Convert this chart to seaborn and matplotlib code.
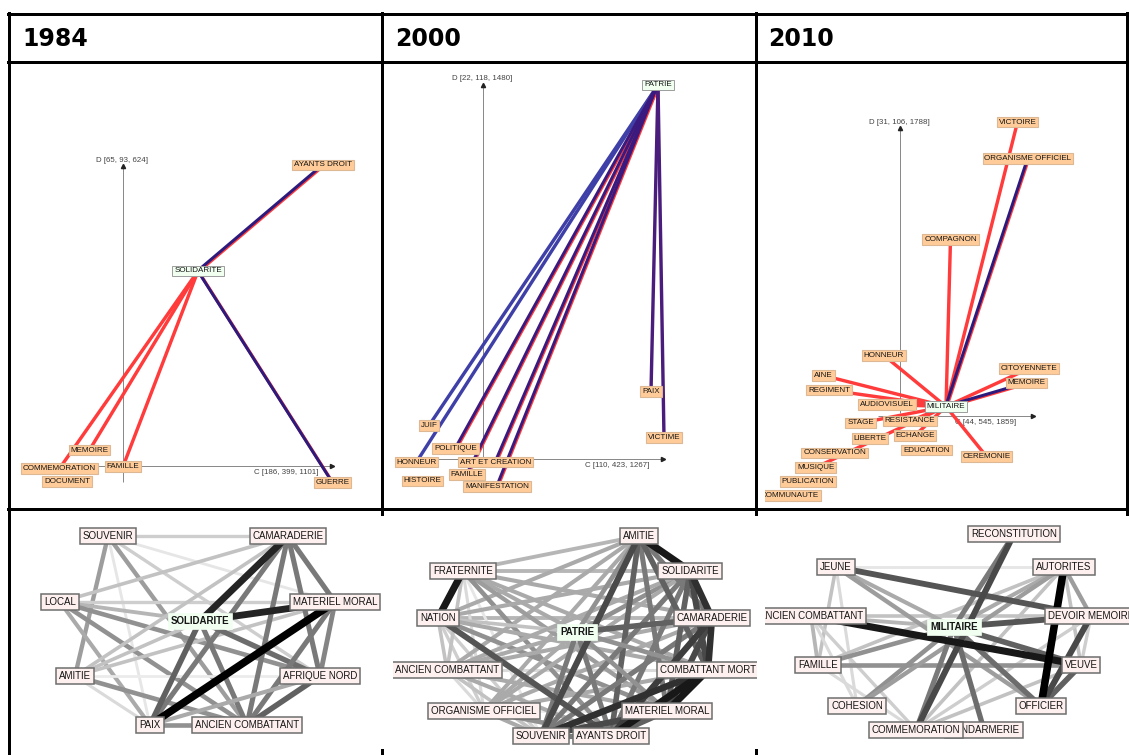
import matplotlib
matplotlib.use("Agg")
import matplotlib.pyplot as plt
import seaborn as sns
from matplotlib import transforms

W, H = 1129, 755
sns.set_theme(style="white")
plt.rcParams['font.family'] = ['Liberation Sans', 'DejaVu Sans']

years = ["1984", "2000", "2010"]

# ---------------- top row : specificity maps (layout coordinates) ----------------
t84_center = "SOLIDARITE"
t84_nodes = ["SOLIDARITE", "AYANTS DROIT", "MEMOIRE", "COMMEMORATION", "FAMILLE", "DOCUMENT", "GUERRE"]
t84_x = [198, 323, 89.5, 59.5, 123, 67, 332.5]
t84_y = [271, 165, 450, 468.5, 466.5, 481.5, 482.5]
t84_links = ["AYANTS DROIT", "MEMOIRE", "COMMEMORATION", "FAMILLE", "GUERRE"]
t84_tones = ["navy", "red", "red", "red", "navy"]
t84_axis = {"D": "D [65, 93, 624]", "C": "C [186, 399, 1101]"}

t00_center = "PATRIE"
t00_nodes = ["PATRIE", "JUIF", "POLITIQUE", "HONNEUR", "ART ET CREATION", "HISTOIRE",
             "FAMILLE", "MANIFESTATION", "PAIX", "VICTIME"]
t00_x = [658, 429, 455.5, 416.5, 495.5, 422.5, 467, 497, 651, 664]
t00_y = [85, 425.5, 448.5, 462, 462, 481, 474.5, 486.5, 391.5, 437.5]
t00_links = ["JUIF", "HONNEUR", "POLITIQUE", "FAMILLE", "ART ET CREATION", "MANIFESTATION", "PAIX", "VICTIME"]
t00_tones = ["blue", "blue", "plum", "plum", "plum", "plum", "purple", "purple"]
t00_axis = {"D": "D [22, 118, 1480]", "C": "C [110, 423, 1267]"}

t10_center = "MILITAIRE"
t10_nodes = ["MILITAIRE", "VICTOIRE", "ORGANISME OFFICIEL", "COMPAGNON", "HONNEUR", "AINE",
             "REGIMENT", "AUDIOVISUEL", "CITOYENNETE", "MEMOIRE", "STAGE", "RESISTANCE",
             "LIBERTE", "ECHANGE", "EDUCATION", "CEREMONIE", "CONSERVATION", "MUSIQUE",
             "PUBLICATION", "COMMUNAUTE"]
t10_x = [946, 1017.5, 1028, 950.5, 884, 823.5, 829, 887, 1029, 1026.5, 860.5, 910,
         870, 915, 926.5, 986.5, 834.5, 815.5, 808, 790]
t10_y = [406.5, 122, 158.5, 239.5, 355.5, 375.5, 390, 404.5, 368.5, 383, 423, 421,
         438.5, 435.5, 450, 456.5, 453, 467.5, 481.5, 495.5]
t10_links = ["VICTOIRE", "ORGANISME OFFICIEL", "COMPAGNON", "HONNEUR", "AINE", "REGIMENT",
             "AUDIOVISUEL", "CITOYENNETE", "MEMOIRE", "STAGE", "RESISTANCE", "ECHANGE",
             "CEREMONIE", "MUSIQUE"]
t10_tones = ["red", "navy", "red", "red", "red", "red", "red", "red", "navy",
             "red", "red", "red", "red", "red"]
t10_axis = {"D": "D [31, 106, 1788]", "C": "C [44, 545, 1859]"}

# C/D axis frames: (origin x, origin y, x min, x max, y min, y max)
t84_frame = (123, 466, 98, 332, 166, 482)
t00_frame = (483, 459, 420, 663, 85, 462)
t10_frame = (900, 416, 878, 1033, 128, 413)

# ---------------- bottom row : co-occurrence graphs ----------------
b84_center = "SOLIDARITE"
b84_nodes = ["SOUVENIR", "CAMARADERIE", "LOCAL", "MATERIEL MORAL", "SOLIDARITE",
             "AMITIE", "AFRIQUE NORD", "PAIX", "ANCIEN COMBATTANT"]
b84_x = [108, 288, 60, 335, 200, 75, 320, 150, 247]
b84_y = [536, 536, 602, 602, 621, 676, 676, 725, 725]
b84_edges = [
    ("SOUVENIR", "CAMARADERIE", 1.5), ("SOUVENIR", "AMITIE", 3.5), ("SOUVENIR", "ANCIEN COMBATTANT", 3.5),
    ("SOUVENIR", "MATERIEL MORAL", 0.5), ("SOUVENIR", "PAIX", 0.5), ("SOUVENIR", "AFRIQUE NORD", 1.5),
    ("LOCAL", "MATERIEL MORAL", 1.5), ("LOCAL", "SOLIDARITE", 2.5), ("LOCAL", "AFRIQUE NORD", 4),
    ("LOCAL", "ANCIEN COMBATTANT", 4), ("LOCAL", "PAIX", 3),
    ("AMITIE", "AFRIQUE NORD", 0.3), ("AMITIE", "ANCIEN COMBATTANT", 4), ("AMITIE", "PAIX", 1),
    ("AMITIE", "SOLIDARITE", 2), ("MATERIEL MORAL", "AMITIE", 2),
    ("CAMARADERIE", "LOCAL", 2), ("CAMARADERIE", "AMITIE", 2),
    ("CAMARADERIE", "PAIX", 5), ("CAMARADERIE", "ANCIEN COMBATTANT", 5),
    ("CAMARADERIE", "MATERIEL MORAL", 5), ("CAMARADERIE", "AFRIQUE NORD", 5),
    ("SOLIDARITE", "PAIX", 6), ("SOLIDARITE", "ANCIEN COMBATTANT", 5), ("SOLIDARITE", "AFRIQUE NORD", 5.5),
    ("MATERIEL MORAL", "AFRIQUE NORD", 4.5), ("MATERIEL MORAL", "ANCIEN COMBATTANT", 5),
    ("AFRIQUE NORD", "PAIX", 3), ("AFRIQUE NORD", "ANCIEN COMBATTANT", 6),
    ("PAIX", "ANCIEN COMBATTANT", 4),
    ("CAMARADERIE", "SOLIDARITE", 8.5), ("MATERIEL MORAL", "SOLIDARITE", 8.5),
    ("MATERIEL MORAL", "PAIX", 10),
]

b00_center = "PATRIE"
b00_nodes = ["AMITIE", "FRATERNITE", "SOLIDARITE", "NATION", "CAMARADERIE", "PATRIE",
             "ANCIEN COMBATTANT", "COMBATTANT MORT", "ORGANISME OFFICIEL", "MATERIEL MORAL",
             "SOUVENIR", "AYANTS DROIT"]
b00_x = [639, 463, 690, 438, 712, 577, 447, 708, 484, 667, 541, 611]
b00_y = [536, 571, 571, 618, 618, 632, 670, 670, 711, 711, 736, 736]
b00_edges = [
    ("AMITIE", "FRATERNITE", 2.5), ("FRATERNITE", "SOLIDARITE", 2.5), ("NATION", "CAMARADERIE", 2.5),
    ("ANCIEN COMBATTANT", "COMBATTANT MORT", 1), ("ORGANISME OFFICIEL", "MATERIEL MORAL", 0.3),
    ("NATION", "ORGANISME OFFICIEL", 1.5), ("FRATERNITE", "ORGANISME OFFICIEL", 1),
    ("FRATERNITE", "SOUVENIR", 0.5), ("NATION", "SOUVENIR", 1.5), ("ANCIEN COMBATTANT", "SOUVENIR", 2),
    ("ANCIEN COMBATTANT", "ORGANISME OFFICIEL", 1), ("FRATERNITE", "ANCIEN COMBATTANT", 2),
    ("NATION", "ANCIEN COMBATTANT", 2), ("AMITIE", "NATION", 3), ("AMITIE", "ORGANISME OFFICIEL", 3),
    ("AMITIE", "ANCIEN COMBATTANT", 3), ("FRATERNITE", "CAMARADERIE", 3), ("FRATERNITE", "PATRIE", 3),
    ("FRATERNITE", "COMBATTANT MORT", 3), ("FRATERNITE", "MATERIEL MORAL", 3.5),
    ("FRATERNITE", "AYANTS DROIT", 4), ("NATION", "SOLIDARITE", 3), ("NATION", "PATRIE", 2),
    ("NATION", "COMBATTANT MORT", 3), ("NATION", "MATERIEL MORAL", 4), ("SOLIDARITE", "PATRIE", 4),
    ("SOLIDARITE", "ANCIEN COMBATTANT", 3), ("SOLIDARITE", "ORGANISME OFFICIEL", 3),
    ("CAMARADERIE", "ANCIEN COMBATTANT", 3), ("CAMARADERIE", "ORGANISME OFFICIEL", 3),
    ("PATRIE", "ANCIEN COMBATTANT", 3), ("PATRIE", "ORGANISME OFFICIEL", 3),
    ("ANCIEN COMBATTANT", "MATERIEL MORAL", 3), ("ANCIEN COMBATTANT", "AYANTS DROIT", 3),
    ("COMBATTANT MORT", "ORGANISME OFFICIEL", 3), ("ORGANISME OFFICIEL", "SOUVENIR", 3),
    ("ORGANISME OFFICIEL", "AYANTS DROIT", 4), ("AMITIE", "PATRIE", 4), ("AMITIE", "CAMARADERIE", 5),
    ("AMITIE", "MATERIEL MORAL", 5), ("AMITIE", "AYANTS DROIT", 6), ("SOLIDARITE", "AYANTS DROIT", 5),
    ("SOLIDARITE", "SOUVENIR", 5), ("CAMARADERIE", "SOUVENIR", 5), ("PATRIE", "COMBATTANT MORT", 4),
    ("PATRIE", "MATERIEL MORAL", 4), ("PATRIE", "SOUVENIR", 5), ("PATRIE", "AYANTS DROIT", 5),
    ("SOUVENIR", "AYANTS DROIT", 5), ("MATERIEL MORAL", "AYANTS DROIT", 6),
    ("CAMARADERIE", "PATRIE", 6), ("NATION", "AYANTS DROIT", 6.5), ("AMITIE", "COMBATTANT MORT", 6),
    ("SOLIDARITE", "MATERIEL MORAL", 6), ("AMITIE", "SOUVENIR", 7), ("MATERIEL MORAL", "SOUVENIR", 7),
    ("SOLIDARITE", "COMBATTANT MORT", 7), ("CAMARADERIE", "MATERIEL MORAL", 7),
    ("CAMARADERIE", "AYANTS DROIT", 7.5), ("COMBATTANT MORT", "SOUVENIR", 8),
    ("SOLIDARITE", "CAMARADERIE", 8), ("CAMARADERIE", "COMBATTANT MORT", 8),
    ("COMBATTANT MORT", "AYANTS DROIT", 9), ("AMITIE", "SOLIDARITE", 9),
    ("COMBATTANT MORT", "MATERIEL MORAL", 9), ("FRATERNITE", "NATION", 9),
]

b10_center = "MILITAIRE"
b10_nodes = ["RECONSTITUTION", "JEUNE", "AUTORITES", "ANCIEN COMBATTANT", "DEVOIR MEMOIRE",
             "MILITAIRE", "FAMILLE", "VEUVE", "COHESION", "OFFICIER", "GENDARMERIE", "COMMEMORATION"]
b10_x = [1014, 836, 1064, 811, 1091, 954, 818, 1081, 857, 1041, 984, 916]
b10_y = [534, 567, 567, 616, 616, 627, 665, 665, 706, 706, 730, 730]
b10_edges = [
    ("JEUNE", "AUTORITES", 0.5), ("ANCIEN COMBATTANT", "DEVOIR MEMOIRE", 2),
    ("ANCIEN COMBATTANT", "MILITAIRE", 2.5), ("JEUNE", "FAMILLE", 2), ("ANCIEN COMBATTANT", "FAMILLE", 2.5),
    ("ANCIEN COMBATTANT", "COHESION", 1), ("FAMILLE", "COMMEMORATION", 1), ("JEUNE", "COHESION", 1),
    ("ANCIEN COMBATTANT", "COMMEMORATION", 1.5), ("AUTORITES", "VEUVE", 2), ("AUTORITES", "COMMEMORATION", 2),
    ("AUTORITES", "FAMILLE", 2), ("DEVOIR MEMOIRE", "COMMEMORATION", 1.5), ("VEUVE", "COMMEMORATION", 2),
    ("DEVOIR MEMOIRE", "VEUVE", 1.5), ("JEUNE", "MILITAIRE", 3), ("AUTORITES", "MILITAIRE", 3),
    ("AUTORITES", "DEVOIR MEMOIRE", 3.5), ("JEUNE", "OFFICIER", 3.5), ("FAMILLE", "VEUVE", 4),
    ("FAMILLE", "MILITAIRE", 4), ("COHESION", "MILITAIRE", 4), ("COHESION", "AUTORITES", 3.5),
    ("MILITAIRE", "COMMEMORATION", 5), ("MILITAIRE", "OFFICIER", 5.5), ("MILITAIRE", "GENDARMERIE", 5.5),
    ("RECONSTITUTION", "MILITAIRE", 5), ("VEUVE", "OFFICIER", 6), ("MILITAIRE", "VEUVE", 6),
    ("MILITAIRE", "DEVOIR MEMOIRE", 6.5), ("JEUNE", "DEVOIR MEMOIRE", 6.5),
    ("RECONSTITUTION", "COMMEMORATION", 7), ("DEVOIR MEMOIRE", "OFFICIER", 7),
    ("ANCIEN COMBATTANT", "VEUVE", 9), ("AUTORITES", "OFFICIER", 10),
]

# ---------------- styles ----------------
TONES = {"red": ("#ff3b3b", None), "navy": ("#2c1a7d", "#ff3b3b"), "blue": ("#3f3fa8", None),
         "purple": ("#4a1c7c", None), "plum": ("#3a1a7e", "#ff3b3b")}
PX = 0.72  # points per pixel at dpi 100

fig = plt.figure(figsize=(W / 100, H / 100), dpi=100)
fig.patch.set_facecolor("white")


def px_axes(x0, y0, x1, y1):
    ax = fig.add_axes([x0 / W, 1 - y1 / H, (x1 - x0) / W, (y1 - y0) / H])
    ax.set_axis_off()
    return ax, (x0, x1, y1, y0)


def seg(ax, xs, ys, color, lw, z, tr=None):
    kw = dict(x=xs, y=ys, ax=ax, color=color, linewidth=lw, sort=False,
              estimator=None, legend=False, zorder=z, solid_capstyle="butt")
    if tr is not None:
        kw["transform"] = tr
    sns.lineplot(**kw)


def label(ax, x, y, text, fc, ec, size, weight="normal", lw=0.8, z=5, pad=0.22):
    ax.text(x, y, text, ha="center", va="center", fontsize=size, fontweight=weight,
            color="#151515", zorder=z, clip_on=True,
            bbox=dict(boxstyle=f"square,pad={pad}", fc=fc, ec=ec, lw=lw))


def top_panel(extent, center, nodes, xs, ys, links, tones, frame, axis_txt):
    ax, lim = px_axes(*extent)
    pos = {n: (x, y) for n, x, y in zip(nodes, xs, ys)}
    ox, oy, xmin, xmax, ymin, ymax = frame
    # C / D axes
    seg(ax, [ox, ox], [ymax, ymin], "#8a8a8a", 1.0 * PX, 1)
    seg(ax, [xmin, xmax], [oy, oy], "#8a8a8a", 1.0 * PX, 1)
    ax.plot([ox], [ymin], marker="^", ms=3, color="#222", zorder=1.5, clip_on=True)
    ax.plot([xmax], [oy], marker=">", ms=3, color="#222", zorder=1.5, clip_on=True)
    ax.text(ox - 1, ymin - 6, axis_txt["D"], ha="center", va="center", fontsize=5.7, color="#444", zorder=1.6)
    ax.text(xmax - 78, oy + 6.5, axis_txt["C"], ha="left", va="center", fontsize=5.7, color="#444", zorder=1.6)
    # links
    cx, cy = pos[center]
    fr_off = transforms.offset_copy(ax.transData, fig=fig, x=0.6, y=-0.6, units="dots")
    mn_off = transforms.offset_copy(ax.transData, fig=fig, x=-0.3, y=0.3, units="dots")
    for tgt, tone in zip(links, tones):
        main, fringe = TONES[tone]
        tx, ty = pos[tgt]
        if fringe:
            seg(ax, [cx, tx], [cy, ty], fringe, 3.2 * PX, 2, fr_off)
            seg(ax, [cx, tx], [cy, ty], main, 3.0 * PX, 2.1, mn_off)
        else:
            seg(ax, [cx, tx], [cy, ty], main, 3.4 * PX, 2)
    for n in nodes:
        x, y = pos[n]
        if n == center:
            label(ax, x, y, n, "#f0fff0", "#9c9c9c", 5.8, lw=0.7, z=6)
        else:
            label(ax, x, y, n, "#ffcc99", "#dcb894", 5.8, lw=0.8, z=5)
    ax.set_xlim(lim[0], lim[1])
    ax.set_ylim(lim[2], lim[3])


def weight_style(w):
    g = max(0.0, 0.95 - 0.095 * w)
    return (g, g, g), (2.6 + 0.5 * w) * PX


def bottom_panel(extent, center, nodes, xs, ys, edges):
    ax, lim = px_axes(*extent)
    pos = {n: (x, y) for n, x, y in zip(nodes, xs, ys)}
    for a, b, w in edges:
        c, lw = weight_style(w)
        seg(ax, [pos[a][0], pos[b][0]], [pos[a][1], pos[b][1]], c, lw, 2)
    for i, n in enumerate(nodes):
        x, y = pos[n]
        if n == center:
            label(ax, x, y, n, "#f0fff0", "#f0fff0", 7, weight="bold", lw=0.5, z=8, pad=0.3)
        else:
            label(ax, x, y, n, "#fff0f0", "#6e6e6e", 7, lw=1.1, z=5 + i * 0.01, pad=0.3)
    ax.set_xlim(lim[0], lim[1])
    ax.set_ylim(lim[2], lim[3])


top_panel((11, 64, 380, 508), t84_center, t84_nodes, t84_x, t84_y, t84_links, t84_tones, t84_frame, t84_axis)
top_panel((383, 64, 754, 508), t00_center, t00_nodes, t00_x, t00_y, t00_links, t00_tones, t00_frame, t00_axis)
top_panel((765, 64, 1126, 508), t10_center, t10_nodes, t10_x, t10_y, t10_links, t10_tones, t10_frame, t10_axis)

bottom_panel((11, 512, 387, 755), b84_center, b84_nodes, b84_x, b84_y, b84_edges)
bottom_panel((393, 512, 757, 755), b00_center, b00_nodes, b00_x, b00_y, b00_edges)
bottom_panel((765, 512, 1129, 755), b10_center, b10_nodes, b10_x, b10_y, b10_edges)

# ---------------- table frame & year headers ----------------
frame_ax = fig.add_axes([0, 0, 1, 1], zorder=20)
frame_ax.set_axis_off()
frame_ax.patch.set_alpha(0)
BL = 3 * PX
for (xa, xb, ya, yb) in [(8, 1128.5, 14, 14), (8, 1128.5, 62, 62), (8, 1128.5, 509, 509),
                         (9, 9, 13, 755), (381.5, 381.5, 13, 514), (755.5, 755.5, 13, 514),
                         (1127, 1127, 13, 514), (381.5, 381.5, 750, 755), (755.5, 755.5, 750, 755)]:
    frame_ax.plot([xa, xb], [ya, yb], color="black", lw=BL, solid_capstyle="projecting")
for yr, xl in zip(years, [22, 395, 768]):
    frame_ax.text(xl, 39.5, yr, ha="left", va="center", fontsize=17, fontweight="bold",
                  family=["DejaVu Sans"], color="black")
frame_ax.set_xlim(0, W)
frame_ax.set_ylim(H, 0)

fig.savefig("out.png", dpi=100, facecolor="white")
